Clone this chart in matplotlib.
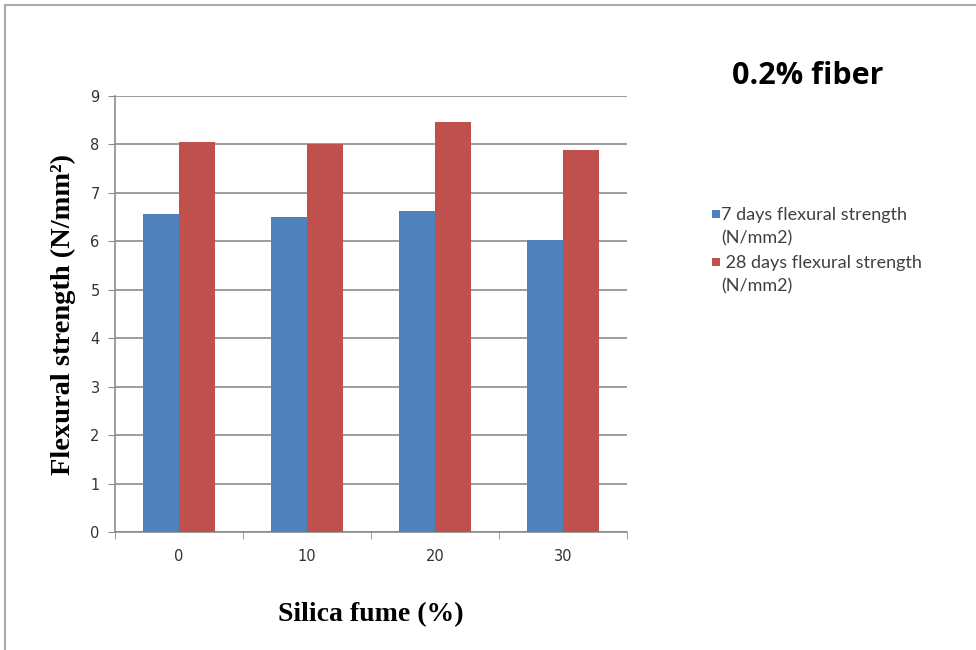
import matplotlib.pyplot as plt
import numpy as np
from matplotlib.lines import Line2D
from matplotlib.patches import Rectangle

silica_fume = ['0', '10', '20', '30']
strength_7d = [6.56, 6.50, 6.63, 6.03]
strength_28d = [8.05, 8.01, 8.47, 7.89]
labels = ['7 days flexural strength\n(N/mm2)', ' 28 days flexural strength\n(N/mm2)']

blue = '#4F81BD'
red = '#C0504D'
grid = '#8C8C8C'

W, H = 976, 650
fig = plt.figure(figsize=(W / 100, H / 100), dpi=100)
ax = fig.add_axes([0.1178, 0.1815, 0.5246, 0.6708])

x = np.arange(len(silica_fume))
w = 0.28
b1 = ax.bar(x - w / 2, strength_7d, w, color=blue, zorder=3)
b2 = ax.bar(x + w / 2, strength_28d, w, color=red, zorder=3)

ax.set_xlim(-0.5, len(silica_fume) - 0.5)
ax.set_ylim(0, 9)
ax.set_yticks(range(10))
ax.yaxis.grid(True, color=grid, linewidth=1.2, zorder=0)
ax.set_axisbelow(True)

# category labels in the middle, tick marks on the boundaries
ax.set_xticks(x)
ax.set_xticklabels(silica_fume)
ax.set_xticks(np.arange(len(silica_fume) + 1) - 0.5, minor=True)
ax.tick_params(axis='x', which='major', length=0, pad=12, labelsize=10.5, labelcolor='#333333')
ax.tick_params(axis='x', which='minor', length=5, color=grid, direction='out')
ax.tick_params(axis='y', length=5, color=grid, labelsize=10.5, labelcolor='#333333', pad=6)

for s in ['top', 'right']:
    ax.spines[s].set_visible(False)
for s in ['left', 'bottom']:
    ax.spines[s].set_color(grid)
    ax.spines[s].set_linewidth(1.2)

ax.set_ylabel('Flexural strength (N/mm²)', family='Liberation Serif',
              fontweight='bold', fontsize=20.5, labelpad=10)
ax.set_xlabel('Silica fume (%)', family='Liberation Serif', fontweight='bold',
              fontsize=20, labelpad=28)

fig.text(0.828, 0.883, '0.2% fiber', family='Open Sans', fontweight='bold', fontsize=22,
         ha='center', va='center', color='black')

# legend: square marker next to the first line of each two-line label
for bars, label, y0 in [(b1, labels[0], 214), (b2, labels[1], 262)]:
    fig.add_artist(Rectangle(((712) / W, 1 - (y0 + 4) / H), 8 / W, 8 / H,
                             facecolor=bars.patches[0].get_facecolor(),
                             transform=fig.transFigure))
    fig.text(721 / W, 1 - (y0 + 12.5) / H, label, family='Lato', fontsize=13,
             color='#404040', ha='left', va='center', linespacing=1.55)

# outer frame lines
fig.add_artist(Line2D([0.005, 1.0], [0.992, 0.992], color='#AAAAAA', linewidth=1.5,
                      transform=fig.transFigure))
fig.add_artist(Line2D([0.005, 0.005], [0.0, 0.992], color='#AAAAAA', linewidth=1.5,
                      transform=fig.transFigure))

fig.savefig('out.png', dpi=100)
